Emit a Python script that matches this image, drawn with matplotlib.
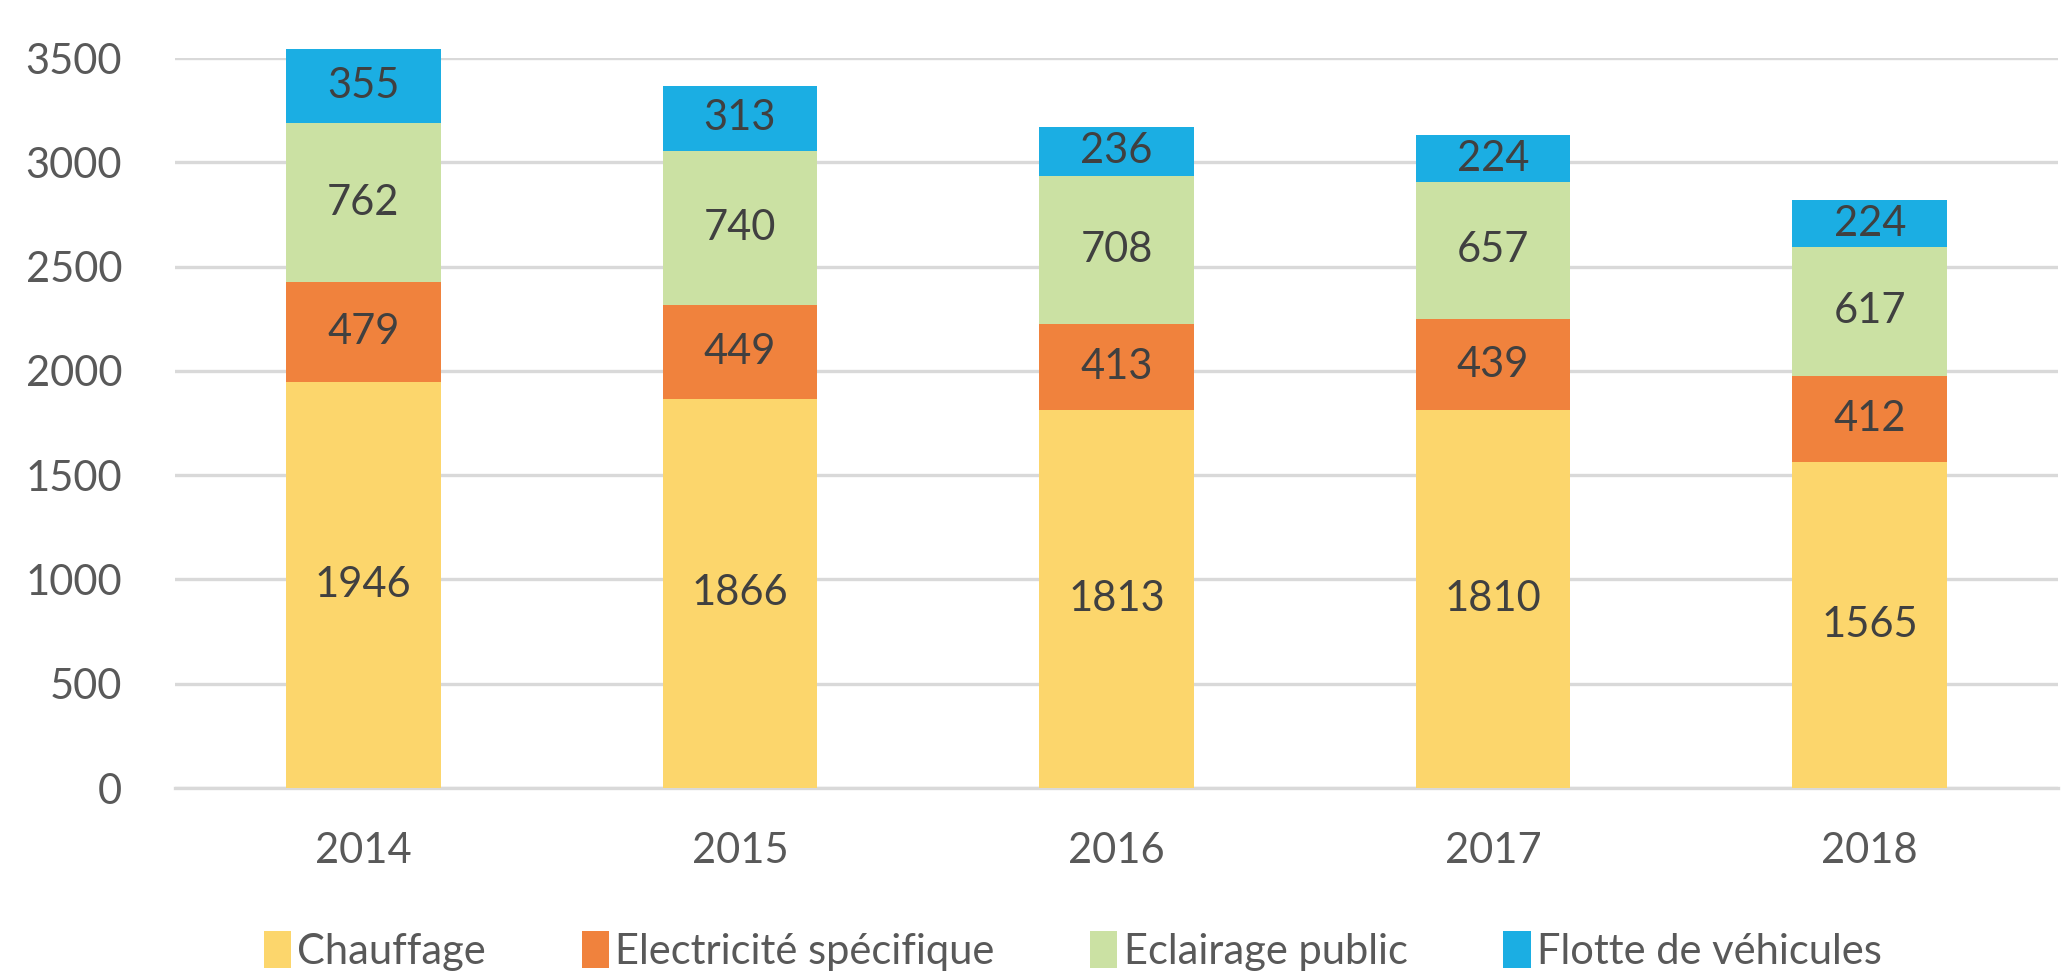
import matplotlib
matplotlib.use("Agg")
import matplotlib.pyplot as plt
import numpy as np

years = ["2014", "2015", "2016", "2017", "2018"]
chauffage = [1946, 1866, 1813, 1810, 1565]
electricite = [479, 449, 413, 439, 412]
eclairage = [762, 740, 708, 657, 617]
flotte = [355, 313, 236, 224, 224]
series_names = ["Chauffage", "Electricité spécifique", "Eclairage public", "Flotte de véhicules"]
colors = ["#FCD66C", "#F0823D", "#CBE1A3", "#1BAEE3"]

plt.rcParams['font.family'] = ['Lato', 'DejaVu Sans']

fig = plt.figure(figsize=(20.67, 9.71), dpi=100)
ax = fig.add_axes([175/2067, 1 - 788/971, (2058-175)/2067, (788-58)/971])

x = np.arange(len(years))
bottom = np.zeros(len(years))
width = 0.41
handles = []
for vals, name, col in zip([chauffage, electricite, eclairage, flotte], series_names, colors):
    vals = np.array(vals, dtype=float)
    b = ax.bar(x, vals, width, bottom=bottom, color=col, label=name, clip_on=False, zorder=3)
    handles.append(b)
    for xi, v, bt in zip(x, vals, bottom):
        ax.text(xi, bt + v/2, f"{int(v)}", ha='center', va='center', fontsize=30,
                color='#404040', zorder=4)
    bottom += vals

ax.set_xlim(-0.5, 4.5)
ax.set_ylim(0, 3500)
ax.set_yticks(np.arange(0, 3501, 500))
ax.yaxis.grid(True, color='#D9D9D9', linewidth=2.4, zorder=0)
ax.set_axisbelow(True)
for s in ['top', 'right', 'left']:
    ax.spines[s].set_visible(False)
ax.spines['bottom'].set_color('#D9D9D9')
ax.spines['bottom'].set_linewidth(2.4)
ax.tick_params(axis='both', length=0, labelsize=30, labelcolor='#595959')
ax.tick_params(axis='y', pad=38)
ax.tick_params(axis='x', pad=32)
ax.set_xticks(x)
ax.set_xticklabels(years)

leg = fig.legend(handles=handles, labels=series_names, loc='center', bbox_to_anchor=(0.519, 1 - 951/971),
                 ncol=4, frameon=False, fontsize=30, labelcolor='#595959',
                 handlelength=0.65, handleheight=1.0, handletextpad=0.15, columnspacing=2.3)

fig.savefig("out.png", dpi=100, facecolor='white')
